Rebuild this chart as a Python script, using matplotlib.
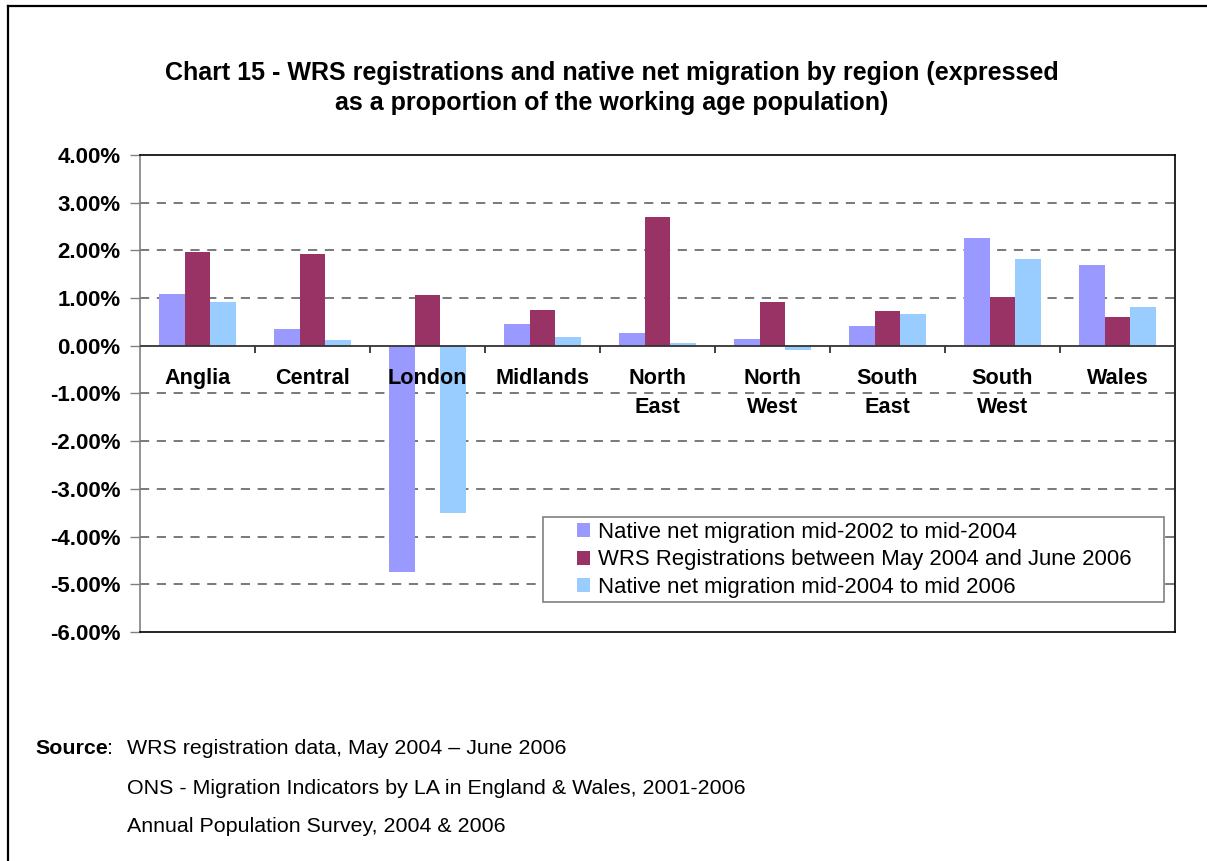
import numpy as np
import matplotlib
matplotlib.use('Agg')
import matplotlib.pyplot as plt
from matplotlib.lines import Line2D
from matplotlib.patches import Rectangle
from matplotlib.ticker import FuncFormatter

plt.rcParams['font.family'] = ['Liberation Sans', 'DejaVu Sans']

# ---------------------------------------------------------------------------
#   Dados (% da população em idade ativa)
# ---------------------------------------------------------------------------
regioes = ['Anglia', 'Central', 'London', 'Midlands', 'North\nEast',
           'North\nWest', 'South\nEast', 'South\nWest', 'Wales']
nativa_02_04 = [1.09, 0.36, -4.75, 0.46, 0.27, 0.15, 0.42, 2.27, 1.70]
wrs_04_06 = [1.97, 1.93, 1.07, 0.76, 2.71, 0.92, 0.73, 1.03, 0.61]
nativa_04_06 = [0.92, 0.13, -3.51, 0.19, 0.06, -0.08, 0.67, 1.83, 0.82]

series = ['Native net migration mid-2002 to mid-2004',
          'WRS Registrations between May 2004 and June 2006',
          'Native net migration mid-2004 to mid 2006']
cores = ['#9999FF', '#993366', '#99CCFF']

fonte = ['WRS registration data, May 2004 \u2013 June 2006',
         'ONS - Migration Indicators by LA in England & Wales, 2001-2006',
         'Annual Population Survey, 2004 & 2006']

# ---------------------------------------------------------------------------
W, H = 1207, 861
fig = plt.figure(figsize=(W / 100, H / 100), dpi=100)


def fx(px):
    return px / W


def fy(py):
    return 1 - py / H


# moldura externa
fig.add_artist(Line2D([fx(8), 1], [fy(6), fy(6)], color='k', lw=1.6))
fig.add_artist(Line2D([fx(8), fx(8)], [0, fy(6)], color='k', lw=1.6))

ax = fig.add_axes([fx(140), fy(632), fx(1175) - fx(140), fy(155) - fy(632)])

x = np.arange(len(regioes))
w = 1 / 4.5
for k, (vals, cor, lab) in enumerate(zip([nativa_02_04, wrs_04_06,
                                           nativa_04_06], cores, series)):
    ax.bar(x + (k - 1) * w, vals, width=w, color=cor, label=lab, zorder=3)

ax.set_xlim(-0.5, len(regioes) - 0.5)
ax.set_ylim(-6, 4)
ax.set_yticks(np.arange(-6, 5, 1))
ax.yaxis.set_major_formatter(FuncFormatter(lambda v, p: '{:.2f}%'.format(v)))
ax.tick_params(axis='y', length=7, width=1, color='#808080', pad=7,
               labelsize=16)
for t in ax.get_yticklabels():
    t.set_fontweight('bold')
ax.set_xticks([])

# grade tracejada
for g in [3, 2, 1, -1, -2, -3, -4, -5]:
    ax.axhline(g, color='#555555', lw=1.1, ls=(0, (6, 5)), zorder=1)
# linha do zero e marcas das categorias
ax.axhline(0, color='#333333', lw=1.3, zorder=4)
ax.vlines(np.arange(0.5, len(regioes) - 0.5, 1), 0, -0.15,
          color='#333333', lw=1.3, zorder=4)

for sp in ['top', 'right', 'bottom']:
    ax.spines[sp].set_color('k')
    ax.spines[sp].set_linewidth(1.2)
ax.spines['left'].set_color('#808080')
ax.spines['left'].set_linewidth(1.2)

for i, reg in enumerate(regioes):
    ax.text(i, -0.46, reg, ha='center', va='top', fontsize=15.6,
            fontweight='bold', linespacing=1.5, zorder=5)

# legenda
fig.add_artist(Rectangle((fx(543), fy(602)), fx(1164) - fx(543),
                         fy(517) - fy(602), transform=fig.transFigure,
                         fill=True, facecolor='white', edgecolor='#808080',
                         lw=1.2, zorder=6))
leg = fig.legend(loc='center left', bbox_to_anchor=(fx(577), fy(560)),
                 frameon=False, fontsize=15.9, handlelength=0.6,
                 handleheight=0.6, handletextpad=0.35, labelspacing=0.3,
                 borderpad=0, borderaxespad=0)
leg.set_zorder(7)

# título
fig.text(fx(612), fy(88), 'Chart 15 - WRS registrations and native net '
         'migration by region (expressed\nas a proportion of the working '
         'age population)', ha='center', va='center', fontsize=18,
         fontweight='bold', linespacing=1.36)

# fonte
fig.text(fx(35), fy(748), 'Source', ha='left', va='center', fontsize=15.4,
         fontweight='bold')
fig.text(fx(107), fy(748), ':', ha='left', va='center', fontsize=15.4)
for py, txt in zip([748, 789, 826], fonte):
    fig.text(fx(127), fy(py), txt, ha='left', va='center', fontsize=15.4)

fig.savefig('out.png', dpi=100)
